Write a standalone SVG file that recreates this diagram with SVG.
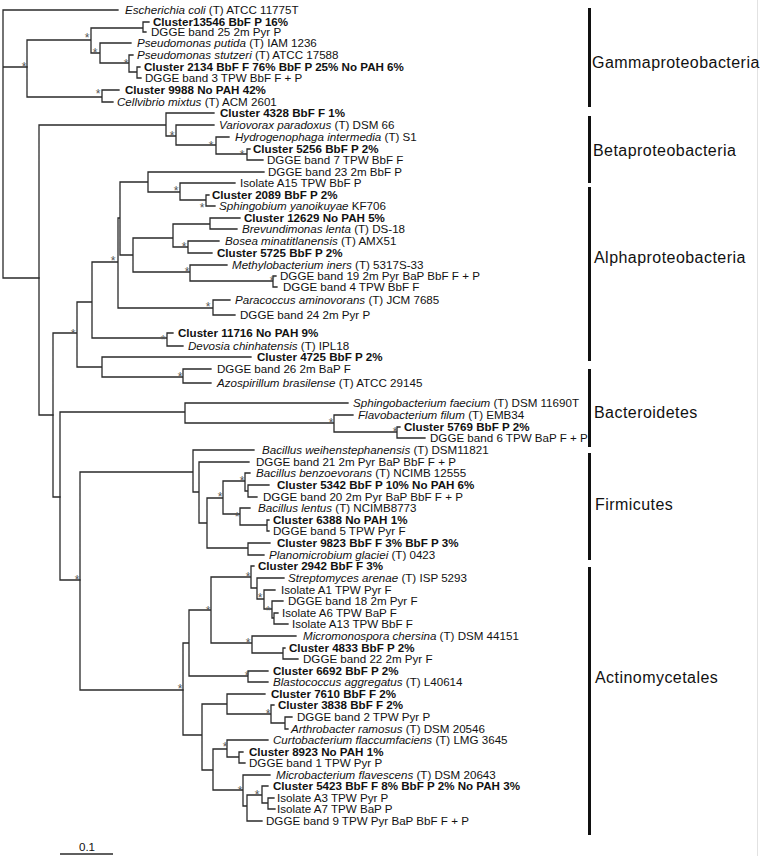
<svg xmlns="http://www.w3.org/2000/svg" width="760" height="856" viewBox="0 0 760 856">
<style>
text{font-family:"Liberation Sans",Arial,sans-serif;font-size:11.6px;fill:#111}
.b{font-weight:bold}
.i{font-style:italic}
.s{font-size:12px;fill:#555;text-anchor:middle}
.c{font-size:16px;letter-spacing:0.45px;fill:#111}
.tree{fill:none;stroke:#2a2a2a;stroke-width:1.3;stroke-linecap:square}
.bar{fill:#111}
</style>
<rect width="760" height="856" fill="#fff"/>
<line x1="757.5" y1="0" x2="757.5" y2="856" stroke="#e2e2e2" stroke-width="1"/>
<g id="connectors" class="tree">
<path d="M3 10V278M3 10H118M3 67H27M3 278H39"/>
<path d="M27 40V97M27 40H91M27 97H102M91 28V53M91 28H143M91 53H100M143 22V32M143 22H149M143 32H146M100 43V63M100 43H131M100 63H129M129 55V72M129 55H133M129 72H137M137 67V78M137 67H140M137 78H141M102 90V102M102 90H119M102 102H113"/>
<path d="M39 125V415M39 125H166M39 415H53M166 113V136M166 113H214M166 136H176M176 125V145M176 125H214M176 145H216M216 137V154M216 137H229M216 154H247M247 149V160M247 149H250M247 160H263"/>
<path d="M53 333V497M53 333H77M53 497H60M77 302V367M77 302H92M77 367H102M92 262V338M92 262H118M92 338H167M118 218V308M118 218H120M118 308H213M120 182V255M120 182H148M120 255H133M148 172V192M148 172H264M148 192H180M180 183V200M180 183H235M180 200H206M206 195V206M206 195H209M206 206H215M133 238V272M133 238H173M133 272H190M173 224V247M173 224H210M173 247H188M210 218V229M210 218H240M210 229H237M188 241V253M188 241H219M188 253H212M190 265V281M190 265H227M190 281H273M273 276V287M273 276H276M273 287H277M213 300V315M213 300H230M213 315H235M167 333V346M167 333H173M167 346H183M102 357V377M102 357H251M102 377H183M183 369V383M183 369H211M183 383H211"/>
<path d="M60 412V580M60 412H185M60 580H80M185 403V423M185 403H348M185 423H334M334 415V432M334 415H353M334 432H397M397 427V438M397 427H400M397 438H425"/>
<path d="M80 472V690M80 472H193M80 690H183M193 450V492M193 450H254M193 492H199M199 462V523M199 462H249M199 523H207M207 498V548M207 498H223M207 548H248M223 481V514M223 481H245M223 514H240M245 473V491M245 473H250M245 491H248M248 485V497M248 485H269M248 497H257M240 508V525M240 508H250M240 525H267M267 520V531M267 520H269M267 531H269M248 543V555M248 543H270M248 555H264"/>
<path d="M183 643V735M183 643H189M183 735H202M189 610V676M189 610H211M189 676H248M211 577V643M211 577H251M211 643H252M251 566V588M251 566H254M251 588H257M257 578V599M257 578H284M257 599H264M264 590V609M264 590H275M264 609H272M272 601V618M272 601H283M272 618H274M274 613V624M274 613H278M274 624H288M252 636V653M252 636H296M252 653H283M283 648V659M283 648H285M283 659H298M248 671V682M248 671H268M248 682H268M202 704V770M202 704H227M202 770H213M227 694V714M227 694H265M227 714H271M271 705V723M271 705H274M271 723H285M285 717V729M285 717H292M285 729H288M213 749V790M213 749H227M213 790H243M227 740V757M227 740H268M227 757H239M239 752V763M239 752H243M239 763H245M243 775V806M243 775H270M243 806H247M247 795V821M247 795H262M247 821H262M262 786V803M262 786H268M262 803H268M268 798V809M268 798H274M268 809H275"/>
</g>
<g id="support" transform="translate(0,1.5)">
<text class="s" x="24" y="69">*</text><text class="s" x="87" y="40">*</text><text class="s" x="95" y="55">*</text><text class="s" x="126" y="66">*</text><text class="s" x="98" y="96">*</text>
<text class="s" x="172" y="138">*</text><text class="s" x="211" y="148">*</text><text class="s" x="242" y="157">*</text>
<text class="s" x="73" y="336">*</text><text class="s" x="113" y="263">*</text><text class="s" x="176" y="193">*</text><text class="s" x="202" y="210">*</text><text class="s" x="184" y="249">*</text><text class="s" x="187" y="274">*</text><text class="s" x="272" y="283">*</text><text class="s" x="208" y="309">*</text><text class="s" x="163" y="342">*</text><text class="s" x="180" y="379">*</text>
<text class="s" x="331" y="425">*</text><text class="s" x="395" y="434">*</text>
<text class="s" x="77" y="582">*</text><text class="s" x="242" y="483">*</text><text class="s" x="220" y="499">*</text><text class="s" x="237" y="519">*</text>
<text class="s" x="180" y="691">*</text><text class="s" x="208" y="613">*</text><text class="s" x="248" y="579">*</text><text class="s" x="260" y="600">*</text><text class="s" x="268" y="613">*</text><text class="s" x="248" y="645">*</text><text class="s" x="247" y="678">*</text><text class="s" x="268" y="716">*</text><text class="s" x="225" y="749">*</text><text class="s" x="240" y="793">*</text><text class="s" x="257" y="797">*</text>
</g>
<g id="n1"><text x="125" y="14"><tspan class="i">Escherichia coli</tspan> (T) ATCC 11775T</text></g>
<g id="n2"><text class="b" x="153" y="26">Cluster13546 BbF P 16%</text></g>
<g id="n3"><text x="151" y="36">DGGE band 25 2m Pyr P</text></g>
<g id="n4"><text x="137" y="47"><tspan class="i">Pseudomonas putida</tspan> (T) IAM 1236</text></g>
<g id="n5"><text x="137" y="59"><tspan class="i">Pseudomonas stutzeri</tspan> (T) ATCC 17588</text></g>
<g id="n6"><text class="b" x="144" y="71">Cluster 2134 BbF F 76% BbF P 25% No PAH 6%</text></g>
<g id="n7"><text x="145" y="82">DGGE band 3 TPW BbF F + P</text></g>
<g id="n8"><text class="b" x="125" y="94">Cluster 9988 No PAH 42%</text></g>
<g id="n9"><text x="117" y="106"><tspan class="i">Cellvibrio mixtus</tspan> (T) ACM 2601</text></g>
<g id="n10"><text class="b" x="220" y="117">Cluster 4328 BbF F 1%</text></g>
<g id="n11"><text x="219" y="129"><tspan class="i">Variovorax paradoxus</tspan> (T) DSM 66</text></g>
<g id="n12"><text x="235" y="141"><tspan class="i">Hydrogenophaga intermedia</tspan> (T) S1</text></g>
<g id="n13"><text class="b" x="253" y="153">Cluster 5256 BbF P 2%</text></g>
<g id="n14"><text x="267" y="164">DGGE band 7 TPW BbF F</text></g>
<g id="n15"><text x="268" y="176">DGGE band 23 2m BbF P</text></g>
<g id="n16"><text x="240" y="187">Isolate A15 TPW BbF P</text></g>
<g id="n17"><text class="b" x="212" y="199">Cluster 2089 BbF P 2%</text></g>
<g id="n18"><text x="219" y="210"><tspan class="i">Sphingobium yanoikuyae</tspan> KF706</text></g>
<g id="n19"><text class="b" x="244" y="222">Cluster 12629 No PAH 5%</text></g>
<g id="n20"><text x="242" y="233"><tspan class="i">Brevundimonas lenta</tspan> (T) DS-18</text></g>
<g id="n21"><text x="225" y="245"><tspan class="i">Bosea minatitlanensis</tspan> (T) AMX51</text></g>
<g id="n22"><text class="b" x="217" y="257">Cluster 5725 BbF P 2%</text></g>
<g id="n23"><text x="232" y="269"><tspan class="i">Methylobacterium iners</tspan> (T) 5317S-33</text></g>
<g id="n24"><text x="280" y="280">DGGE band 19 2m Pyr BaP BbF F + P</text></g>
<g id="n25"><text x="283" y="291">DGGE band 4 TPW BbF F</text></g>
<g id="n26"><text x="235" y="304"><tspan class="i">Paracoccus aminovorans</tspan> (T) JCM 7685</text></g>
<g id="n27"><text x="240" y="319">DGGE band 24 2m Pyr P</text></g>
<g id="n28"><text class="b" x="178" y="337">Cluster 11716 No PAH 9%</text></g>
<g id="n29"><text x="188" y="350"><tspan class="i">Devosia chinhatensis</tspan> (T) IPL18</text></g>
<g id="n30"><text class="b" x="257" y="361">Cluster 4725 BbF P 2%</text></g>
<g id="n31"><text x="217" y="373">DGGE band 26 2m BaP F</text></g>
<g id="n32"><text x="217" y="387"><tspan class="i">Azospirillum brasilense</tspan> (T) ATCC 29145</text></g>
<g id="n33"><text x="353" y="407"><tspan class="i">Sphingobacterium faecium</tspan> (T) DSM 11690T</text></g>
<g id="n34"><text x="358" y="419"><tspan class="i">Flavobacterium filum</tspan> (T) EMB34</text></g>
<g id="n35"><text class="b" x="404" y="431">Cluster 5769 BbF P 2%</text></g>
<g id="n36"><text x="430" y="442">DGGE band 6 TPW BaP F + P</text></g>
<g id="n37"><text x="262" y="454"><tspan class="i">Bacillus weihenstephanensis</tspan> (T) DSM11821</text></g>
<g id="n38"><text x="256" y="466">DGGE band 21 2m Pyr BaP BbF F + P</text></g>
<g id="n39"><text x="256" y="477"><tspan class="i">Bacillus benzoevorans</tspan> (T) NCIMB 12555</text></g>
<g id="n40"><text class="b" x="277" y="489">Cluster 5342 BbF P 10% No PAH 6%</text></g>
<g id="n41"><text x="263" y="501">DGGE band 20 2m Pyr BaP BbF F + P</text></g>
<g id="n42"><text x="258" y="512"><tspan class="i">Bacillus lentus</tspan> (T) NCIMB8773</text></g>
<g id="n43"><text class="b" x="273" y="524">Cluster 6388 No PAH 1%</text></g>
<g id="n44"><text x="273" y="535">DGGE band 5 TPW Pyr F</text></g>
<g id="n45"><text class="b" x="277" y="547">Cluster 9823 BbF F 3% BbF P 3%</text></g>
<g id="n46"><text x="269" y="559"><tspan class="i">Planomicrobium glaciei</tspan> (T) 0423</text></g>
<g id="n47"><text class="b" x="258" y="570">Cluster 2942 BbF F 3%</text></g>
<g id="n48"><text x="288" y="582"><tspan class="i">Streptomyces arenae</tspan> (T) ISP 5293</text></g>
<g id="n49"><text x="281" y="594">Isolate A1 TPW Pyr F</text></g>
<g id="n50"><text x="288" y="605">DGGE band 18 2m Pyr F</text></g>
<g id="n51"><text x="282" y="617">Isolate A6 TPW BaP F</text></g>
<g id="n52"><text x="292" y="628">Isolate A13 TPW BbF F</text></g>
<g id="n53"><text x="303" y="640"><tspan class="i">Micromonospora chersina</tspan> (T) DSM 44151</text></g>
<g id="n54"><text class="b" x="289" y="652">Cluster 4833 BbF P 2%</text></g>
<g id="n55"><text x="303" y="663">DGGE band 22 2m Pyr F</text></g>
<g id="n56"><text class="b" x="273" y="675">Cluster 6692 BbF P 2%</text></g>
<g id="n57"><text x="273" y="686"><tspan class="i">Blastococcus aggregatus</tspan> (T) L40614</text></g>
<g id="n58"><text class="b" x="271" y="698">Cluster 7610 BbF F 2%</text></g>
<g id="n59"><text class="b" x="278" y="709">Cluster 3838 BbF F 2%</text></g>
<g id="n60"><text x="297" y="721">DGGE band 2 TPW Pyr P</text></g>
<g id="n61"><text x="291" y="733"><tspan class="i">Arthrobacter ramosus</tspan> (T) DSM 20546</text></g>
<g id="n62"><text x="273" y="744"><tspan class="i">Curtobacterium flaccumfaciens</tspan> (T) LMG 3645</text></g>
<g id="n63"><text class="b" x="249" y="756">Cluster 8923 No PAH 1%</text></g>
<g id="n64"><text x="249" y="767">DGGE band 1 TPW Pyr P</text></g>
<g id="n65"><text x="276" y="779"><tspan class="i">Microbacterium flavescens</tspan> (T) DSM 20643</text></g>
<g id="n66"><text class="b" x="273" y="790">Cluster 5423 BbF F 8% BbF P 2% No PAH 3%</text></g>
<g id="n67"><text x="277" y="802">Isolate A3 TPW Pyr P</text></g>
<g id="n68"><text x="277" y="813">Isolate A7 TPW BaP P</text></g>
<g id="n69"><text x="266" y="825">DGGE band 9 TPW Pyr BaP BbF F + P</text></g>
<g id="clades">
<rect class="bar" x="588" y="8" width="3" height="99"/>
<text class="c" x="592" y="68">Gammaproteobacteria</text>
<rect class="bar" x="588" y="116" width="3" height="67"/>
<text class="c" x="593" y="156">Betaproteobacteria</text>
<rect class="bar" x="588" y="187" width="3" height="174"/>
<text class="c" x="594" y="263">Alphaproteobacteria</text>
<rect class="bar" x="588" y="369" width="3" height="78"/>
<text class="c" x="594" y="418">Bacteroidetes</text>
<rect class="bar" x="588" y="453" width="3" height="107"/>
<text class="c" x="595" y="510">Firmicutes</text>
<rect class="bar" x="588" y="567" width="3" height="268"/>
<text class="c" x="595" y="683">Actinomycetales</text>
</g>
<g id="scale">
<line x1="60" y1="854" x2="113" y2="854" stroke="#2a2a2a" stroke-width="1.3"/>
<text x="87" y="851" text-anchor="middle">0.1</text>
</g>
</svg>
